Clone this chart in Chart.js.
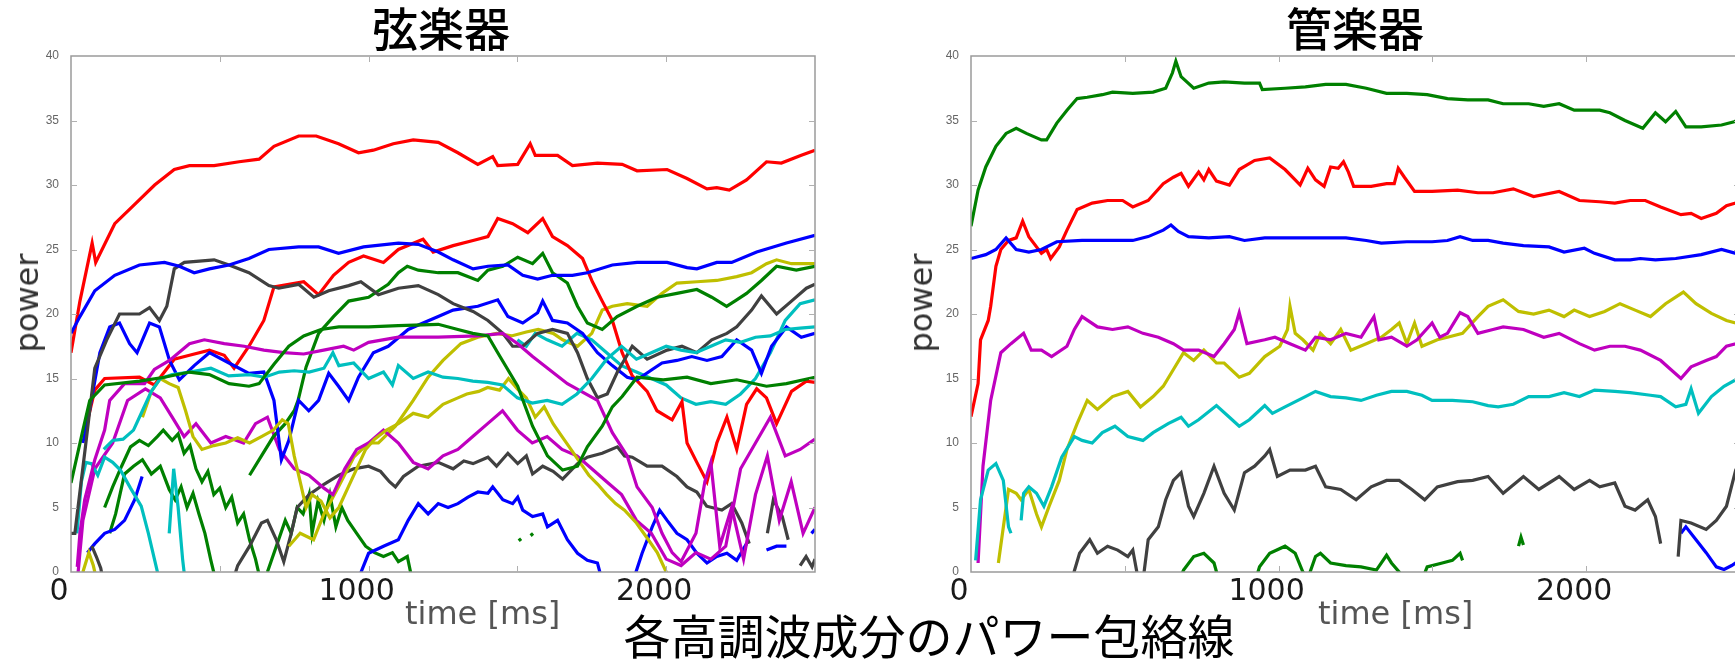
<!DOCTYPE html>
<html>
<head>
<meta charset="utf-8">
<script src="https://cdn.jsdelivr.net/npm/chart.js@4/dist/chart.umd.min.js"></script>
<style>
  html, body { margin: 0; padding: 0; background: #fff; }
  #wrap { position: relative; width: 1735px; height: 660px; overflow: hidden; background: #fff; }
  .panel { position: absolute; top: 0; height: 660px; }
  .panel canvas { filter: blur(0.4px); }
  .txt { position: absolute; white-space: nowrap; line-height: 1; }
  .title { font-family: "Noto Sans CJK JP"; font-size: 46px; font-weight: 500; color: #000; top: 3px; transform: translateX(-50%); }
  .caption { font-family: "Noto Sans CJK JP"; font-size: 47px; color: #000; top: 610px; left: 929px; transform: translateX(-50%); }
  .ylab { font-family: "DejaVu Sans"; font-size: 32px; color: #333; transform: translate(-50%, -50%) rotate(-90deg); }
  .xlab { font-family: "DejaVu Sans"; font-size: 32px; color: #555; top: 597px; }
</style>
</head>
<body>
<div id="wrap">
  <div class="panel" style="left:0px;width:840px;"><canvas id="cvString" width="840" height="660"></canvas></div>
  <div class="panel" style="left:890px;width:870px;"><canvas id="cvWind" width="870" height="660"></canvas></div>
  <div class="txt title" style="left:441px;">弦楽器</div>
  <div class="txt title" style="left:1355px;">管楽器</div>
  <div class="txt ylab" style="left:27px;top:303px;">power</div>
  <div class="txt ylab" style="left:921px;top:303px;">power</div>
  <div class="txt xlab" style="left:405px;">time [ms]</div>
  <div class="txt xlab" style="left:1318px;">time [ms]</div>
  <div class="txt caption">各高調波成分のパワー包絡線</div>
</div>
<script>
// axis settings
const timeMax = 2500;
const timeStep = 500;
const powerMax = 40;
const powerStep = 5;
const timeLabels = [0, 1000, 2000];

// line colours, cycled in harmonic order
const palette = ['#0000ff', '#008000', '#ff0000', '#00bfbf', '#bf00bf', '#bfbf00', '#404040'];

// ---- string instrument: [time ms, power] per harmonic (null = no envelope) ----
const strH1 = [[0,18.5],[30,19.8],[80,21.8],[147,23],[230,23.8],[314,24],[364,23.7],[414,23.2],[465,23.5],[531,23.8],[598,24.3],[665,25],[765,25.2],[832,25.2],[899,24.7],[983,25.2],[1100,25.5],[1167,25.4],[1234,24.8],[1284,24.2],[1351,23.5],[1401,23.7],[1468,23.8],[1518,23],[1568,22.7],[1618,23],[1685,23],[1735,23.2],[1819,23.8],[1902,24],[2003,24],[2070,23.6],[2103,23.5],[2170,24],[2220,24],[2304,24.8],[2404,25.5],[2500,26.1]];
const strH2 = [[0,6.9],[40,11],[63,13.3],[113,14.5],[230,14.8],[314,15.1],[398,15.5],[465,15.3],[531,14.6],[598,14.4],[632,14.6],[682,16.1],[732,17.5],[782,18.3],[840,18.8],[900,19],[1000,19],[1100,19.1],[1234,19.2],[1300,18.8],[1350,18.5],[1401,18.3],[1434,17],[1501,14.4],[1551,11.3],[1601,9],[1652,7.9],[1702,8.2],[1735,9.7],[1785,11.3],[1819,12.8],[1852,13.6],[1902,15.1],[1990,14.9],[2070,15.1],[2150,14.6],[2237,14.9],[2337,14.4],[2404,14.6],[2500,15.1]];
const strH3 = [[0,17],[30,21],[71,25.5],[83,24],[147,27],[214,28.5],[281,30],[347,31.2],[398,31.5],[481,31.5],[565,31.8],[632,32],[682,33],[765,33.8],[824,33.8],[899,33.2],[966,32.5],[1016,32.7],[1083,33.2],[1150,33.5],[1234,33.3],[1300,32.5],[1367,31.6],[1417,32.2],[1434,31.5],[1501,31.6],[1543,33.2],[1560,32.3],[1635,32.3],[1685,31.5],[1769,31.7],[1852,31.6],[1902,31.1],[2003,31.2],[2070,30.5],[2137,29.7],[2170,29.8],[2212,29.6],[2270,30.4],[2337,31.8],[2387,31.7],[2454,32.3],[2500,32.7]];
const strH4 = [[100,null],[110,9.5],[140,10.2],[175,10.3],[210,11],[240,12.5],[270,14],[300,15],[340,15.3],[400,15.5],[470,15.8],[530,15.2],[600,15.3],[650,15.1],[700,15.5],[750,15.6],[800,15.5],[850,15.8],[880,17],[900,16],[950,16.2],[1000,15],[1050,15.5],[1080,14.5],[1100,16],[1150,15],[1200,15.5],[1250,15.1],[1300,15],[1350,14.8],[1400,14.7],[1450,14.5],[1500,13.5],[1550,13.1],[1600,13.3],[1650,13],[1700,13.8],[1750,15],[1800,16.5],[1850,17.5],[1900,16.5],[1950,17],[2000,17.5],[2050,17.2],[2100,17],[2150,17.5],[2200,18],[2250,17.8],[2300,18.2],[2350,18.3],[2400,18.8],[2450,18.9],[2500,19]];
const strH5 = [[15,null],[21,0.4],[30,3],[46,5.6],[80,8.7],[113,11],[130,13.3],[180,14.6],[247,14.6],[280,15.7],[331,16.4],[398,17.7],[448,18],[515,17.7],[582,17.5],[648,17.2],[715,17],[782,16.9],[849,17.2],[916,17.5],[950,17.2],[1000,17.8],[1100,18.2],[1234,18.2],[1367,18.3],[1451,18.5],[1501,17.7],[1551,16.7],[1668,14.6],[1769,13.3],[1819,10.8],[1869,9],[1902,6.6],[1953,5],[1986,3],[2020,1.5],[2050,0.8],[2100,3],[2130,7],[2150,8.5],[2180,2],[2220,5],[2260,1],[2300,6],[2340,9],[2380,4],[2420,7],[2460,3],[2500,5]];
const strH6 = [[30,null],[40,0],[60,1.5],[75,0.5],[90,-1],[100,null],[230,null],[240,12],[270,14],[300,15],[330,14.6],[360,14.3],[385,12.5],[410,10.5],[440,9.5],[480,9.8],[520,10],[560,10.4],[600,10],[640,10.5],[680,11],[710,11.8],[730,11.5],[750,9],[770,7],[790,5],[810,6],[840,5.5],[870,4.2],[900,5],[930,6.5],[960,8],[990,9.5],[1020,10.3],[1060,11],[1100,11.5],[1150,12.3],[1200,12],[1250,13],[1300,13.5],[1330,13.8],[1370,14],[1400,14.3],[1440,14.1],[1470,15],[1500,14.2],[1530,13.5],[1560,12],[1590,12.8],[1620,11.5],[1650,10.5],[1680,9.5],[1710,8.5],[1740,7.5],[1770,6.8],[1800,6],[1830,5.3],[1860,4.8],[1900,3.8],[1940,2.5],[1970,1.5],[2000,0],[2020,-1]];
const strH7 = [[0,3],[13,3],[50,10],[80,15.8],[120,18],[163,20],[230,20],[264,20.5],[297,19.5],[322,20.6],[347,23.5],[381,24],[431,24.1],[481,24.2],[531,23.8],[598,23.2],[665,22.2],[698,22],[765,22.3],[816,21.3],[866,21.8],[933,22.2],[974,22.5],[1033,21.5],[1100,22],[1167,22.2],[1234,21.5],[1284,20.8],[1351,20.2],[1401,19.5],[1451,18.5],[1484,17.5],[1518,17.5],[1568,18.5],[1618,18.8],[1668,18.5],[1702,17],[1735,15],[1769,13.5],[1802,13.8],[1836,15.5],[1886,17.5],[1936,16.5],[2003,17.2],[2053,17.5],[2103,17],[2153,18],[2204,18.5],[2237,19],[2287,20.3],[2320,21.4],[2371,20],[2421,21],[2471,22],[2500,22.3]];
const strH8 = [[30,null],[40,10],[63,12.6],[97,17],[130,19],[163,19.3],[197,17.7],[222,17],[264,19.3],[297,19],[331,16.4],[364,14.9],[414,16],[465,17],[531,16.2],[598,15.4],[648,15.5],[682,13.3],[707,8.7],[732,10.2],[765,13.3],[799,12.5],[832,13.3],[866,15.4],[899,14.4],[933,13.3],[966,15.1],[1016,17],[1066,17.5],[1133,18.8],[1183,19.3],[1234,19.8],[1284,20.3],[1367,20.6],[1434,21.1],[1468,19.8],[1518,19.3],[1568,20.1],[1585,21],[1618,19.5],[1668,19.3],[1719,18.5],[1769,17],[1819,16],[1869,15.1],[1902,14.9],[1953,15.7],[1986,16.2],[2036,16.4],[2086,16.7],[2137,16.4],[2187,16.7],[2237,18],[2287,17.2],[2320,15.4],[2354,17.5],[2404,19],[2454,18.2],[2500,18.5]];
const strH9 = [[590,null],[600,7.5],[640,9],[680,10.5],[720,11.5],[750,12.5],[763,13.3],[790,15.9],[832,18.5],[882,19.8],[933,21],[1000,21.3],[1066,22.3],[1100,23.2],[1130,23.7],[1167,23.4],[1234,23.2],[1300,23.2],[1367,22.6],[1401,23.4],[1451,23.7],[1501,24.4],[1551,23.9],[1585,24.7],[1618,23.2],[1668,22.4],[1702,20.6],[1735,19.3],[1785,18.8],[1835,19.8],[1902,20.6],[1969,21.3],[2036,21.6],[2103,21.9],[2153,21.3],[2203,20.6],[2237,21.1],[2270,21.6],[2320,22.6],[2371,23.7],[2437,23.4],[2500,23.7]];
const strH10 = [[30,null],[46,10.8],[80,14.1],[113,15],[230,15.1],[280,14.5],[347,16.5],[398,16.8],[465,17.2],[515,16.8],[548,15.8],[598,17.5],[648,19.5],[682,22.1],[732,22.3],[782,22.5],[832,21.5],[882,23],[933,24],[983,24.5],[1050,24],[1100,25],[1183,25.8],[1217,24.8],[1284,25.3],[1351,25.7],[1401,26],[1434,27.4],[1484,27],[1535,26.3],[1585,27.4],[1618,26],[1668,25.3],[1719,24.3],[1752,22.5],[1785,21],[1819,19.5],[1852,17],[1886,15.2],[1936,14],[1969,12.5],[2020,11.8],[2053,13.2],[2070,10],[2103,8.5],[2137,7],[2170,10],[2204,12],[2237,9.5],[2270,13],[2304,14.2],[2337,13.5],[2371,11.5],[2421,14],[2471,14.8],[2500,14.7]];
const strH11 = [[15,null],[20,3],[35,7],[50,8.5],[69,8.4],[90,7.5],[113,8.9],[140,8.5],[166,7.9],[200,6.5],[236,5.1],[260,3],[289,0.15],[300,-1],[320,null],[330,3],[345,8],[360,5],[375,1],[385,-1],[400,null],[1480,null],[1500,18],[1530,17.5],[1560,18.5],[1600,18],[1650,17.5],[1700,18.5],[1750,18],[1800,17],[1850,16],[1900,15.5],[1950,15],[2000,14.5],[2050,13.5],[2100,13],[2150,13.2],[2200,13],[2250,13.8],[2300,15],[2350,17],[2400,19.5],[2450,20.8],[2500,21.1]];
const strH12 = [[20,-1],[40,4],[80,8],[140,10],[190,13.3],[250,14.2],[300,13.5],[340,12],[380,10.5],[420,11.5],[470,10],[520,10.5],[580,10],[620,11.5],[660,12],[700,9.5],[750,8],[800,7.5],[850,6.5],[880,6],[920,8],[960,9.5],[1000,10],[1050,11],[1100,10],[1150,8.5],[1200,8],[1250,9],[1300,9.5],[1350,10.5],[1400,11.5],[1450,12.5],[1500,11],[1550,10],[1600,10.5],[1650,9.5],[1700,9],[1750,8],[1800,7],[1850,6],[1900,4],[1950,3],[2000,1],[2050,0.5],[2100,1.5],[2150,1],[2200,2],[2250,8],[2300,10],[2350,12],[2400,9],[2450,9.5],[2500,10.3]];
const strH13 = [[720,null],[732,2],[770,3],[815,2.5],[850,4.5],[899,6.6],[950,8.9],[1000,10],[1033,10],[1090,11.3],[1150,13.3],[1200,15.1],[1250,16.4],[1310,17.7],[1367,18.2],[1430,18.5],[1480,18.3],[1530,18.6],[1570,18.8],[1620,18.5],[1652,18],[1702,17.5],[1750,18.5],[1785,20.3],[1819,20.6],[1869,20.8],[1936,20.6],[1986,21.6],[2036,22.4],[2103,22.5],[2170,22.6],[2237,22.9],[2287,23.2],[2337,23.9],[2371,24.2],[2421,23.9],[2500,23.9]];
const strH14 = [[60,null],[70,2],[85,1.2],[100,0.3],[110,-1],[120,null],[540,-1],[560,0.5],[600,2],[640,3.8],[660,4],[690,2.5],[715,0.8],[740,3],[760,5],[800,6],[850,6.8],[900,7.5],[950,8],[1000,8.2],[1040,7.8],[1070,7],[1090,6.6],[1117,7.4],[1167,8.2],[1234,8.5],[1284,8],[1320,8.6],[1351,8.4],[1401,8.9],[1430,8.2],[1468,9.2],[1501,8.4],[1530,9],[1551,7.6],[1585,8.2],[1620,7.8],[1652,7.2],[1702,8.4],[1735,8.9],[1785,9.2],[1836,9.7],[1860,9],[1886,8.9],[1936,8.2],[1986,8.2],[2036,7.4],[2070,6.6],[2103,6.2],[2136,5.1],[2187,4.8],[2220,5.3],[2254,3.8],[2279,2.2],[2290,null],[2330,null],[2340,3],[2360,5.6],[2390,4.3],[2410,2.5],[2420,null],[2440,null],[2450,0.5],[2470,1.2],[2490,0.4],[2500,1]];
const strH15 = [[40,null],[55,1.5],[80,2.2],[113,3],[147,3.3],[180,4],[214,5.6],[239,7.4],[245,null],[940,-2],[1000,1.45],[1050,2],[1100,2.5],[1133,4],[1167,5.3],[1200,4.5],[1234,5.3],[1267,5],[1300,5.3],[1334,5.8],[1367,6.2],[1401,6.1],[1417,6.6],[1451,5.6],[1484,5.3],[1501,5.8],[1518,4.8],[1551,4.3],[1585,4.5],[1601,3.5],[1635,4],[1668,2.5],[1702,1.45],[1735,0.9],[1769,0.7],[1800,-2],[1870,-2],[1919,1.45],[1953,3.5],[1978,4.8],[2003,4],[2036,3],[2070,2.5],[2103,1.45],[2137,0.7],[2170,1.2],[2204,1.45],[2237,0.9],[2270,2.2],[2280,null],[2330,null],[2337,1.7],[2371,2],[2404,2],[2410,null],[2480,null],[2488,3],[2500,3.3]];
const strH16 = [[100,null],[113,5],[140,6.6],[170,8.2],[200,9.7],[230,10.2],[260,9.8],[290,10.5],[310,11],[340,10.2],[360,10.7],[380,9.2],[400,9.8],[420,8],[440,7],[460,7.8],[480,6],[500,6.5],[520,5],[540,5.8],[560,3.8],[580,4.5],[600,2.5],[620,1],[640,-1],[650,null],[660,0],[690,2],[720,4],[740,3],[760,5],[780,4.5],[800,6],[810,3],[830,5.5],[850,4],[870,6],[890,3.5],[910,5],[930,4],[960,3],[990,2],[1020,1.5],[1050,1.2],[1080,1.5],[1100,0.8],[1130,1.2],[1150,-1],[1160,null],[1500,null],[1505,2.6],[1512,2.4],[1518,null],[1540,null],[1545,3],[1552,2.8],[1558,null]];
const strH17 = [[120,null],[130,3],[150,4.5],[180,7.6],[210,8.2],[240,8.7],[270,7.6],[300,8.2],[330,6.4],[350,5.6],[370,6.6],[390,5],[410,6.1],[430,4.5],[450,3],[470,0.9],[490,-1]];

const stringSeries = [
  [strH1, 0], [strH2, 1], [strH3, 2], [strH4, 3], [strH5, 4], [strH6, 5], [strH7, 6],
  [strH8, 0], [strH9, 1], [strH10, 2], [strH11, 3], [strH12, 4], [strH13, 5], [strH14, 6],
  [strH15, 0], [strH16, 1], [strH17, 1]
];

// ---- wind instrument: [time ms, power] per harmonic ----
const windH1 = [[0,24.3],[48,24.6],[81,25],[114,25.9],[147,25],[188,24.8],[229,25],[279,25.6],[361,25.7],[444,25.7],[526,25.7],[576,26],[625,26.5],[650,26.9],[674,26.4],[707,26],[773,25.9],[840,26],[889,25.7],[955,25.9],[1054,25.9],[1153,25.9],[1219,25.9],[1285,25.7],[1334,25.5],[1417,25.6],[1499,25.6],[1549,25.7],[1590,26],[1631,25.7],[1681,25.7],[1730,25.5],[1796,25.3],[1879,25.2],[1928,24.8],[1994,25.1],[2027,24.7],[2093,24.2],[2143,24.2],[2176,24.3],[2225,24.2],[2291,24.3],[2374,24.6],[2440,25],[2486,24.7],[2500,24.7]];
const windH2 = [[0,26.8],[23,29.6],[48,31.4],[81,33],[114,34],[147,34.4],[180,34],[229,33.5],[246,33.5],[279,34.8],[312,35.8],[345,36.7],[378,36.8],[427,37],[460,37.2],[526,37.1],[592,37.2],[633,37.5],[655,38.7],[666,39.6],[683,38.4],[724,37.5],[773,37.9],[823,38],[889,37.9],[938,37.9],[947,37.4],[1021,37.5],[1087,37.6],[1153,37.8],[1219,37.8],[1285,37.5],[1351,37.1],[1417,37.1],[1483,37],[1549,36.7],[1615,36.6],[1681,36.6],[1730,36.3],[1813,36.3],[1862,36.1],[1912,36.3],[1961,35.8],[2044,35.8],[2077,35.6],[2126,35],[2184,34.4],[2225,35.6],[2258,34.9],[2291,35.7],[2324,34.5],[2374,34.5],[2440,34.65],[2481,34.9],[2500,35.1]];
const windH3 = [[0,12.05],[23,14.6],[31,18],[56,19.5],[64,20.6],[81,23.7],[97,25],[122,25.7],[147,25.9],[168,27.2],[188,26],[229,24.7],[246,25],[259,24.3],[287,25.2],[312,26.5],[345,28.1],[394,28.6],[444,28.8],[493,28.8],[526,28.3],[576,28.8],[625,30.1],[658,30.6],[683,30.9],[707,29.9],[740,31],[757,30.4],[773,31.2],[798,30.3],[840,30],[872,31.2],[922,31.9],[971,32.1],[1021,31.2],[1054,30.4],[1070,30],[1095,31.3],[1120,30.4],[1148,29.9],[1169,31.4],[1194,31.3],[1211,31.8],[1227,31],[1244,29.9],[1301,29.9],[1351,30.1],[1376,30.1],[1389,31.3],[1409,30.6],[1442,29.5],[1499,29.5],[1582,29.6],[1648,29.4],[1697,29.4],[1763,29.7],[1829,29.1],[1912,29.5],[1978,28.8],[2044,28.7],[2093,28.6],[2143,28.8],[2192,28.8],[2242,28.3],[2308,27.7],[2341,27.8],[2374,27.4],[2423,27.8],[2456,28.4],[2486,28.6],[2500,28.7]];
const windH4 = [[15,0.9],[31,5.6],[56,7.9],[81,8.4],[105,7.1],[122,3.5],[130,3],[140,null],[163,4],[171,6.1],[188,6.6],[213,6.1],[237,5.1],[262,6.6],[295,8.9],[336,10.5],[361,10.2],[394,10],[427,10.8],[468,11.3],[510,10.5],[559,10.2],[592,10.8],[641,11.5],[683,12],[707,11.3],[740,11.8],[798,12.9],[840,12],[872,11.3],[905,11.8],[955,12.9],[980,12.3],[1021,12.8],[1087,13.6],[1120,14],[1169,13.6],[1219,13.5],[1268,13.3],[1318,13.7],[1367,14],[1417,14],[1466,13.7],[1499,13.3],[1565,13.3],[1631,13.2],[1681,12.9],[1714,12.8],[1763,13],[1813,13.6],[1879,13.6],[1928,13.9],[1978,13.6],[2027,14.1],[2093,14],[2143,13.9],[2209,13.7],[2242,13.6],[2291,12.8],[2324,13],[2341,14.2],[2365,12.3],[2407,13.6],[2448,14.4],[2486,14.9],[2500,15]];
const windH5 = [[23,0.7],[39,8.2],[64,13.3],[97,17],[130,17.7],[171,18.5],[196,17.2],[229,17.2],[262,16.7],[312,17.5],[336,18.8],[361,19.8],[411,19],[460,18.8],[510,19],[559,18.5],[609,18.2],[658,17.7],[691,17.2],[740,17.2],[790,16.7],[823,17.7],[856,18.8],[872,20.1],[897,17.7],[955,18],[988,18.2],[1037,17.7],[1087,17.2],[1120,18.2],[1169,18],[1219,18.5],[1268,18.2],[1310,19.8],[1326,18],[1367,18.2],[1417,17.5],[1450,18],[1499,19.3],[1524,18.2],[1549,18.5],[1590,20.1],[1615,19.8],[1648,18.5],[1697,18.8],[1730,19],[1796,18.8],[1862,18.2],[1912,18.5],[1978,17.7],[2027,17.2],[2077,17.5],[2126,17.5],[2176,17.2],[2242,16.4],[2275,15.7],[2308,15],[2341,15.9],[2390,16.4],[2423,16.7],[2456,17.5],[2486,17.7],[2500,17.9]];
const windH6 = [[89,0.7],[122,6.4],[147,6.1],[163,5.6],[188,6.4],[213,4.5],[229,3.5],[254,5.1],[287,7.1],[312,9.5],[345,11.5],[378,13.3],[411,12.6],[460,13.6],[510,14],[551,12.8],[592,13.6],[625,14.4],[658,15.7],[691,17],[724,16.4],[757,17.2],[798,16.2],[823,16.2],[872,15.1],[905,15.4],[955,16.7],[1004,17.5],[1029,18.8],[1037,20.6],[1054,18.5],[1079,18],[1112,17.2],[1136,18.5],[1169,17.7],[1202,18.8],[1235,17.2],[1285,17.7],[1334,18.2],[1367,18.8],[1392,19.3],[1417,17.7],[1442,19.3],[1466,17.5],[1516,18],[1549,18.2],[1598,18.5],[1648,19.8],[1681,20.6],[1730,21.1],[1780,20.2],[1829,20],[1879,20.3],[1928,19.8],[1961,20.3],[2011,19.8],[2060,20.2],[2110,20.8],[2159,20.3],[2209,19.8],[2258,20.8],[2316,21.7],[2357,20.8],[2407,20.05],[2456,19.5],[2486,19.3],[2500,19.2]];
const windH7 = [[310,-2],[353,1.45],[386,2.5],[411,1.45],[444,2],[477,1.7],[510,1.2],[526,1.7],[543,-0.5],[560,-0.5],[576,2.5],[609,3.5],[633,5.6],[658,7.1],[683,7.7],[707,5.1],[724,4.3],[757,6.1],[790,8.2],[823,6.1],[856,4.8],[889,7.7],[922,8.2],[955,9],[971,9.5],[996,7.4],[1037,7.9],[1087,7.9],[1120,8.2],[1153,6.6],[1202,6.4],[1252,5.6],[1301,6.6],[1351,7.1],[1392,7.1],[1433,6.4],[1475,5.6],[1516,6.6],[1582,7],[1631,7.1],[1681,7.4],[1730,6.1],[1796,7.4],[1846,6.4],[1912,7.4],[1961,6.4],[2011,7.1],[2044,6.6],[2093,6.9],[2126,5.1],[2159,4.8],[2200,5.6],[2225,4.3],[2242,2.2],[2250,null],[2299,1.2],[2308,4],[2341,3.8],[2390,3.3],[2423,4],[2456,5.1],[2486,7.9],[2500,8.5]];
const windH8 = [[2300,null],[2308,3],[2324,3.5],[2357,2.5],[2390,1.5],[2423,0.4],[2448,0.2],[2473,0.5],[2486,0.7],[2500,0.9]];
const windH9 = [[670,-1],[691,0.15],[724,1.2],[757,1.45],[790,0.7],[810,-1],[920,-1],[938,0.4],[971,1.45],[1021,2],[1054,1.45],[1079,0],[1095,-0.5],[1120,1.2],[1136,1.45],[1169,0.7],[1219,0.5],[1268,0.4],[1318,0.15],[1351,1.3],[1367,0.7],[1392,0],[1420,-1],[1460,-1],[1483,0.4],[1532,0.7],[1565,0.9],[1590,1.45],[1598,0.9],[1610,null],[1775,null],[1780,2],[1788,2.7],[1796,2.1]];

const windSeries = [
  [windH1, 0], [windH2, 1], [windH3, 2], [windH4, 3], [windH5, 4], [windH6, 5], [windH7, 6], [windH8, 0], [windH9, 1]
];

function toDatasets(series) {
  return series.map(([pts, c]) => ({
    data: pts.map(([t, v]) => ({ x: t, y: v })),
    borderColor: palette[c],
    backgroundColor: palette[c],
    borderWidth: 3.2,
    pointRadius: 0,
    tension: 0,
    spanGaps: false,
    fill: false
  }));
}

// frame with inward tick marks, drawn from the chart's own scales
const framePlugin = {
  id: 'frame',
  afterDraw(chart) {
    const { ctx, chartArea: a, scales: { x, y } } = chart;
    ctx.save();
    ctx.strokeStyle = '#9a9a9a';
    ctx.lineWidth = 1.5;
    ctx.strokeRect(a.left, a.top, a.right - a.left, a.bottom - a.top);
    ctx.strokeStyle = '#b0b0b0';
    ctx.lineWidth = 1;
    for (let t = timeStep; t < timeMax; t += timeStep) {
      const px = Math.round(x.getPixelForValue(t)) + 0.5;
      ctx.beginPath();
      ctx.moveTo(px, a.top); ctx.lineTo(px, a.top + 6);
      ctx.moveTo(px, a.bottom); ctx.lineTo(px, a.bottom - 6);
      ctx.stroke();
    }
    for (let v = powerStep; v < powerMax; v += powerStep) {
      const py = Math.round(y.getPixelForValue(v)) + 0.5;
      ctx.beginPath();
      ctx.moveTo(a.left, py); ctx.lineTo(a.left + 6, py);
      ctx.moveTo(a.right, py); ctx.lineTo(a.right - 6, py);
      ctx.stroke();
    }
    ctx.restore();
  }
};

function makeChart(id, series, yAxisWidth, padRight) {
  return new Chart(document.getElementById(id), {
    type: 'line',
    data: { datasets: toDatasets(series) },
    options: {
      responsive: false,
      animation: false,
      devicePixelRatio: 1,
      layout: { padding: { top: 56, right: padRight, bottom: 0, left: 0 } },
      plugins: { legend: { display: false }, tooltip: { enabled: false } },
      scales: {
        x: {
          type: 'linear',
          min: 0, max: timeMax,
          grid: { display: false, drawTicks: false },
          border: { display: false },
          afterFit(scale) { scale.height = 88; },
          ticks: {
            stepSize: timeStep,
            autoSkip: false,
            maxRotation: 0,
            padding: 2,
            labelOffset: -12,
            color: '#1a1a1a',
            font: { family: 'DejaVu Sans', size: 30 },
            callback: (v) => (timeLabels.includes(v) ? String(v) : '')
          }
        },
        y: {
          type: 'linear',
          min: 0, max: powerMax,
          grid: { display: false, drawTicks: false },
          border: { display: false },
          afterFit(scale) { scale.width = yAxisWidth; },
          ticks: {
            stepSize: powerStep,
            padding: 12,
            color: '#666',
            font: { family: 'Liberation Sans', size: 12 }
          }
        }
      }
    },
    plugins: [framePlugin]
  });
}

makeChart('cvString', stringSeries, 71, 25);
makeChart('cvWind', windSeries, 81, 20);
</script>
</body>
</html>
